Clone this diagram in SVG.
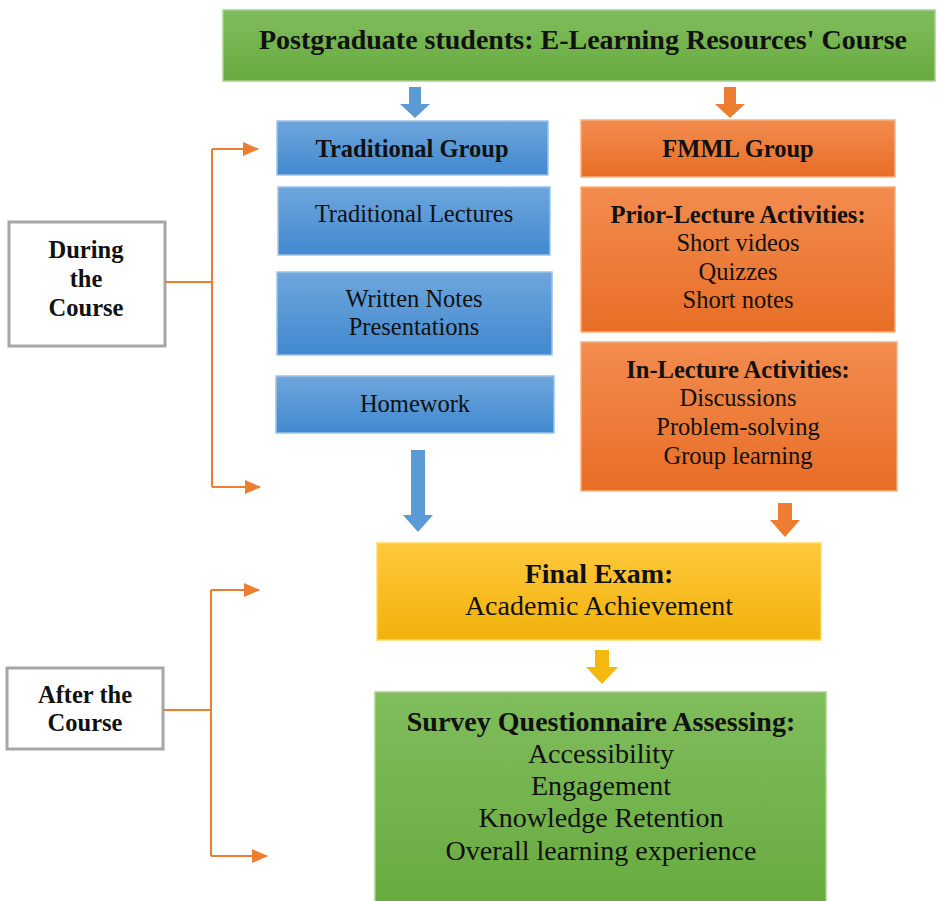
<svg xmlns="http://www.w3.org/2000/svg" width="937" height="901" viewBox="0 0 937 901">
<defs>
<linearGradient id="gGreen" x1="0" y1="0" x2="0" y2="1"><stop offset="0" stop-color="#80bd5c"/><stop offset="1" stop-color="#67ab3f"/></linearGradient>
<linearGradient id="gBlue" x1="0" y1="0" x2="0" y2="1"><stop offset="0" stop-color="#6ea6dc"/><stop offset="1" stop-color="#4189cf"/></linearGradient>
<linearGradient id="gOrange" x1="0" y1="0" x2="0" y2="1"><stop offset="0" stop-color="#f28c4f"/><stop offset="1" stop-color="#e86e26"/></linearGradient>
<linearGradient id="gYellow" x1="0" y1="0" x2="0" y2="1"><stop offset="0" stop-color="#ffc83c"/><stop offset="1" stop-color="#f2b20c"/></linearGradient>
<marker id="ah" viewBox="0 0 16 14" refX="15" refY="7" markerWidth="16" markerHeight="14" markerUnits="userSpaceOnUse" orient="auto">
<path d="M0,0 L16,7 L0,14 Z" fill="#ed7d31"/>
</marker>
</defs>
<style>
text{font-family:"Liberation Serif","Times New Roman",serif;fill:#111;text-anchor:middle}
.b{font-weight:bold}
.t25{font-size:24.5px}
.t28{font-size:28px}
.green{fill:url(#gGreen);stroke:#a9d18e;stroke-width:1.5}
.blue{fill:url(#gBlue);stroke:#9dc3e6;stroke-width:1.5}
.orange{fill:url(#gOrange);stroke:#f4b183;stroke-width:1.5}
.yellow{fill:url(#gYellow);stroke:#ffd966;stroke-width:1.5}
.gray{fill:#fff;stroke:#a6a6a6;stroke-width:3}
.conn{fill:none;stroke:#ed7d31;stroke-width:2}
</style>
<rect width="937" height="901" fill="#fff"/>

<g id="title">
<rect class="green" x="223" y="10" width="712" height="71"/>
<text class="b t28" x="583" y="49">Postgraduate students: E-Learning Resources' Course</text>
</g>

<g id="traditional-group">
<rect class="blue" x="277" y="121" width="271" height="54"/>
<text class="b t25" x="412" y="157">Traditional Group</text>
</g>
<g id="traditional-lectures">
<rect class="blue" x="278" y="187" width="272" height="68"/>
<text class="t25" x="414" y="222">Traditional Lectures</text>
</g>
<g id="written-notes">
<rect class="blue" x="277" y="272" width="275" height="83"/>
<text class="t25" x="414" y="307">Written Notes</text>
<text class="t25" x="414" y="335">Presentations</text>
</g>
<g id="homework">
<rect class="blue" x="276" y="376" width="278" height="57"/>
<text class="t25" x="415" y="412">Homework</text>
</g>

<g id="fmml-group">
<rect class="orange" x="581" y="120" width="314" height="57"/>
<text class="b t25" x="738" y="157">FMML Group</text>
</g>
<g id="prior-lecture">
<rect class="orange" x="581" y="187" width="314" height="145"/>
<text class="b t25" x="738" y="223">Prior-Lecture Activities:</text>
<text class="t25" x="738" y="251">Short videos</text>
<text class="t25" x="738" y="280">Quizzes</text>
<text class="t25" x="738" y="308">Short notes</text>
</g>
<g id="in-lecture">
<rect class="orange" x="581" y="342" width="316" height="149"/>
<text class="b t25" x="738" y="378">In-Lecture Activities:</text>
<text class="t25" x="738" y="406">Discussions</text>
<text class="t25" x="738" y="435">Problem-solving</text>
<text class="t25" x="738" y="464">Group learning</text>
</g>

<g id="final-exam">
<rect class="yellow" x="377" y="543" width="444" height="97"/>
<text class="b t28" x="599" y="583">Final Exam:</text>
<text class="t28" x="599" y="615">Academic Achievement</text>
</g>

<g id="survey">
<rect class="green" x="375" y="692" width="451" height="215"/>
<text class="b t28" x="601" y="731">Survey Questionnaire Assessing:</text>
<text class="t28" x="601" y="763">Accessibility</text>
<text class="t28" x="601" y="795">Engagement</text>
<text class="t28" x="601" y="827">Knowledge Retention</text>
<text class="t28" x="601" y="860">Overall learning experience</text>
</g>

<g id="during-course">
<rect class="gray" x="9" y="222" width="156" height="124"/>
<text class="b t25" x="86" y="258">During</text>
<text class="b t25" x="86" y="287">the</text>
<text class="b t25" x="86" y="316">Course</text>
</g>
<g id="after-course">
<rect class="gray" x="7" y="668" width="156" height="81"/>
<text class="b t25" x="85" y="703">After the</text>
<text class="b t25" x="85" y="731">Course</text>
</g>

<g id="connectors">
<path class="conn" d="M165,282 H212"/>
<path class="conn" d="M212,149 V487"/>
<path class="conn" d="M212,149 H258" marker-end="url(#ah)"/>
<path class="conn" d="M212,487 H260" marker-end="url(#ah)"/>
<path class="conn" d="M163,710 H211"/>
<path class="conn" d="M211,590 V856"/>
<path class="conn" d="M211,590 H259" marker-end="url(#ah)"/>
<path class="conn" d="M211,856 H267" marker-end="url(#ah)"/>
<path d="M409,87 H421 V104 H430 L415,118 L400,104 H409 Z" fill="#5b9bd5"/>
<path d="M724,87 H736 V104 H745 L730,118 L715,104 H724 Z" fill="#ed7d31"/>
<path d="M411,450 H425 V515 H433 L418,532 L403,515 H411 Z" fill="#5b9bd5"/>
<path d="M778,503 H792 V520 H800 L785,537 L770,520 H778 Z" fill="#ed7d31"/>
<path d="M595,650 H609 V667 H618 L602,684 L586,667 H595 Z" fill="#f5b80f"/>
</g>
</svg>
